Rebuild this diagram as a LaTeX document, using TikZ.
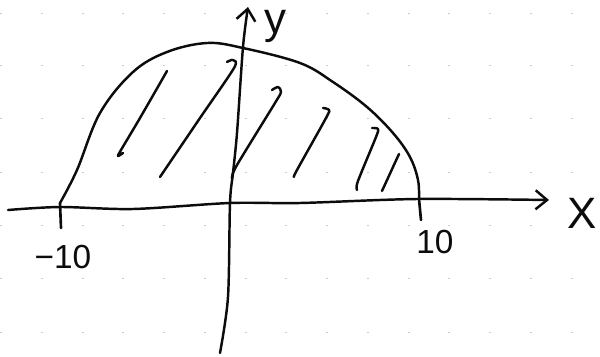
\documentclass[tikz,border=0pt]{standalone}
\usepackage{fontspec}
\setmainfont{Liberation Sans}
\usetikzlibrary{arrows.meta}
\definecolor{PencilInk}{RGB}{12,12,12}
\definecolor{GridDot}{RGB}{205,205,205}
\tikzset{
  axisline/.style={-{Straight Barb[length=2.3mm,width=3.8mm]},line width=1.4pt,
    draw=PencilInk,line cap=round},
  curveline/.style={line width=1.4pt,draw=PencilInk,line cap=round},
  hatchline/.style={line width=1.4pt,draw=PencilInk,line cap=round,line join=round},
  tickline/.style={line width=1.5pt,draw=PencilInk,line cap=round},
  gridrow/.style={draw=GridDot,line width=0.5pt,dash pattern=on 1.2pt off 22pt},
  ticklabel/.style={anchor=base,text=PencilInk,inner sep=0pt,
    font=\fontsize{19}{19}\selectfont},
  axislabel/.style={anchor=base,text=PencilInk,inner sep=0pt,
    font=\fontsize{25}{25}\selectfont}
}

\begin{document}
\begin{tikzpicture}[x=0.02cm,y=-0.02cm]
  \useasboundingbox (0,0) rectangle (600,356);
  % faint rows of the graph paper
  \foreach \row in {13,65,118,172,225,278,332}
    \draw[gridrow] (0,\row) -- (600,\row);

  \coordinate (xfrom) at (8,210);
  \coordinate (xto) at (549,200);
  \coordinate (yfrom) at (220,353);
  \coordinate (yto) at (248,7);
  \coordinate (negtick) at (60,203);
  \coordinate (postick) at (419,199);

  % axes
  \draw[axisline] plot[smooth] coordinates {(xfrom) (60,207) (133,209) (230,203)
    (300,203) (417,199) (xto)};
  \draw[axisline] plot[smooth] coordinates {(yfrom) (228,297) (230,203) (233,173)
    (237,133) (243,47) (yto)};
  \node[axislabel] (xlabel) at (582,228) {X};
  \node[axislabel] (ylabel) at (275,33) {y};

  % ticks and their numbers
  \draw[tickline] (negtick) -- ++(1,25);
  \draw[tickline] (postick) -- ++(2,21);
  \node[ticklabel] (negten) at (63,268) {−10};
  \node[ticklabel] (posten) at (435,253) {10};

  % the region's upper edge
  \draw[curveline] plot[smooth,tension=0.6] coordinates {(negtick) (77,170)
    (100,113) (133,72) (167,52) (207,43) (243,48) (300,63) (333,82) (367,107)
    (393,133) (410,157) (418,180) (postick)};

  % hatching
  \draw[hatchline] plot[smooth] coordinates {(167,71) (140,118) (121,150) (118,156) (123,153)};
  \draw[hatchline] plot[smooth] coordinates {(160,177) (200,118) (234,68) (233,60) (227,62)};
  \draw[hatchline] plot[smooth] coordinates {(232,178) (237,165) (275,103) (281,92) (278,87) (272,90)};
  \draw[hatchline] plot[smooth] coordinates {(294,177) (297,170) (326,118) (329,110) (323,108)};
  \draw[hatchline] plot[smooth] coordinates {(357,190) (358,181) (376,137) (378,129) (372,128)};
  \draw[hatchline] (399,154) -- (382,191);
\end{tikzpicture}
\end{document}
